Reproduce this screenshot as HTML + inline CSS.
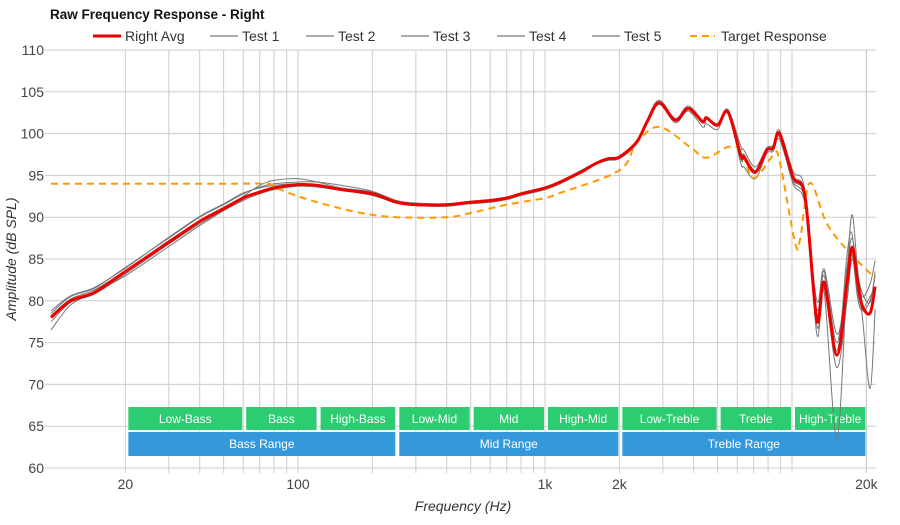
<!DOCTYPE html>
<html><head><meta charset="utf-8">
<style>
body{margin:0;background:#fff;font-family:"Liberation Sans",sans-serif;}
svg text{font-family:"Liberation Sans",sans-serif;}
</style></head>
<body>
<svg id="chart" width="900" height="520" xmlns="http://www.w3.org/2000/svg">
<text x="50" y="19" font-size="13.5" font-weight="bold" fill="#111">Raw Frequency Response - Right</text>
<g id="legend" font-size="14" fill="#333">
 <g><line x1="93" y1="36" x2="121" y2="36" stroke="#e00" stroke-width="3"/><text x="125" y="41">Right Avg</text></g>
 <g><line x1="210" y1="36" x2="238" y2="36" stroke="#aaa" stroke-width="2"/><text x="242" y="41">Test 1</text></g>
 <g><line x1="306" y1="36" x2="334" y2="36" stroke="#aaa" stroke-width="2"/><text x="338" y="41">Test 2</text></g>
 <g><line x1="401" y1="36" x2="429" y2="36" stroke="#aaa" stroke-width="2"/><text x="433" y="41">Test 3</text></g>
 <g><line x1="497" y1="36" x2="525" y2="36" stroke="#aaa" stroke-width="2"/><text x="529" y="41">Test 4</text></g>
 <g><line x1="592" y1="36" x2="620" y2="36" stroke="#aaa" stroke-width="2"/><text x="624" y="41">Test 5</text></g>
 <g><line x1="690" y1="36" x2="715" y2="36" stroke="#f90" stroke-width="2" stroke-dasharray="7,5"/><text x="721" y="41">Target Response</text></g>
</g>
<g id="grid"></g>
<g id="bands"></g>
<g id="series"></g>
<g id="axes"></g>
<text x="463" y="511" font-size="14" font-style="italic" text-anchor="middle" fill="#333">Frequency (Hz)</text>
<text transform="translate(16,259) rotate(-90)" font-size="14" font-style="italic" text-anchor="middle" fill="#333">Amplitude (dB SPL)</text>
</svg>
<script>
const freqs=[10,12,15,20,30,40,50,60,70,80,100,120,150,200,250,300,400,500,600,700,800,1000,1150,1400,1600,1800,2000,2350,2600,2900,3370,3800,4350,4500,5000,5500,6200,6400,7100,7900,8400,8900,10100,11300,12600,13500,15200,16700,17500,18400,19200,20700,21700];
const avgValues=[78,80,81,83.5,87,89.5,91,92.3,93,93.5,93.9,93.8,93.3,92.8,91.8,91.5,91.5,91.8,92,92.3,92.8,93.5,94.2,95.4,96.4,97,97.2,99,101.5,103.7,101.6,103,101.4,101.9,101,102.6,97.4,97.2,95.4,98,98.3,100,94.8,92.4,77.7,82.2,73.5,82.1,86.4,82.5,79.5,78.5,81.7];
const test1Values=[76.5,79.5,81,83,86.5,89,90.8,92.5,93.8,94.4,94.6,94.2,93.5,93,92,91.6,91.4,91.6,91.8,92.1,92.6,93.3,94,95.3,96.3,96.8,97,98.8,101.8,104,101.8,103.3,101.6,102,101.2,102.9,98.5,98,96,98.3,98.6,100.4,95.5,93,76,81,63.5,83,90.3,84,80.5,82,84.8];
const test2Values=[78.5,80.5,81.5,84,87.5,90,91.5,92.8,93.6,94,94.2,94.2,93.8,93.1,92,91.7,91.6,91.9,92.1,92.4,92.9,93.6,94.3,95.6,96.5,97.1,97.3,99.1,101.4,103.5,101.3,102.7,100.8,101.2,100.5,102.4,96.5,96,94.6,97.6,97.9,99.6,94,91.5,79,83.5,75,84,87.5,83.5,81,79.8,83.5];
const test3Values=[77.5,79.8,80.8,83.2,86.8,89.2,90.8,92,92.8,93.3,93.7,93.6,93.2,92.6,91.7,91.4,91.3,91.7,91.9,92.2,92.7,93.4,94.1,95.4,96.4,96.9,97.1,99,101.6,103.8,101.7,103.1,101.5,102,101.1,102.7,97.8,97.5,95.6,98.1,98.4,100.1,95,92.6,77,81.5,72,80,85,81.5,78.5,69.5,79];
const test4Values=[78.2,80.2,81.3,83.6,87.2,89.6,91.2,92.4,93.1,93.6,93.9,93.8,93.4,92.8,91.8,91.5,91.5,91.8,92,92.3,92.8,93.5,94.2,95.5,96.5,97,97.2,99,101.5,103.6,101.5,102.9,101.3,101.8,100.9,102.5,97.3,97.1,95.3,97.9,98.2,99.9,94.6,92.2,78.5,83,74,85.5,88,81,78.8,80,83];
const test5Values=[78.8,80.6,81.6,83.9,87.6,90.1,91.6,92.9,93.5,93.8,94,93.8,93.2,92.7,91.7,91.4,91.4,91.7,92,92.3,92.8,93.5,94.2,95.6,96.5,97,97.2,99,101.5,103.7,101.6,103,101.4,101.9,101,102.5,97,96.9,95.2,97.9,98,99.3,94.3,92,80,83.8,76,82,85.5,80.5,79,80.5,81.5];
const targetFreqs=[10,20,50,75,80,100,130,180,250,400,500,700,1000,1150,2000,2350,2900,3900,4500,5500,6200,7000,8400,8900,10300,10800,11800,13800,16700,21700];
const targetValues=[94,94,94,94,93.6,92.5,91.5,90.5,90,90,90.5,91.5,92.3,92.9,95.6,98.9,100.8,98.3,97.1,98.4,98,94.7,97.4,96.8,86.9,87.5,94.1,89.3,86.1,82.7];
const yTicks=[60,65,70,75,80,85,90,95,100,105,110];
const xTickValues=[20,100,1000,2000,20000];
const xTickLabels=["20","100","1k","2k","20k"];
const bandNames=["Low-Bass","Bass","High-Bass","Low-Mid","Mid","High-Mid","Low-Treble","Treble","High-Treble"];
const bandEdges=[20,60,120,250,500,1000,2000,5000,10000,20000];
const rangeNames=["Bass Range","Mid Range","Treble Range"];
const rangeEdges=[20,250,2000,20000];

const NS="http://www.w3.org/2000/svg";
const X0=50,X1=876,Y0=50,Y1=468;
function xs(f){return 298+247*Math.log10(f/100);}
function ys(v){return Y0+(110-v)*(Y1-Y0)/50;}
function mk(tag,attrs,parent){const e=document.createElementNS(NS,tag);for(const k in attrs)e.setAttribute(k,attrs[k]);parent.appendChild(e);return e;}
const grid=document.getElementById('grid'),axes=document.getElementById('axes'),bands=document.getElementById('bands'),series=document.getElementById('series');
yTicks.forEach(v=>{
 const l=mk('line',{x1:X0-5,x2:X1,y1:ys(v),y2:ys(v),stroke:'#ccc','stroke-width':1},grid);
 
 
 const t=mk('text',{x:44,y:ys(v)+5,'font-size':14,'text-anchor':'end',fill:'#444'},axes);
 
 
 t.textContent=v;
});
const gf=[];
for(let d=10;d<=10000;d*=10)for(let m=1;m<10;m++){const f=d*m;if(f>=20&&f<=20000)gf.push(f);}
gf.push(20000);
gf.forEach(f=>{
 const l=mk('line',{x1:xs(f),x2:xs(f),y1:Y0,y2:Y1+5,stroke:'#ccc','stroke-width':1},grid);
 
 
});
xTickValues.forEach((f,i)=>{
 const t=mk('text',{x:xs(f),y:489,'font-size':14,'text-anchor':'middle',fill:'#444'},axes);
 
 
 t.textContent=xTickLabels[i];
});
bandNames.forEach((n,i)=>{
 const a=xs(bandEdges[i])+3,b=xs(bandEdges[i+1])-1;
 const r=mk('rect',{x:a,y:407,width:b-a,height:23,fill:'#2ecc71'},bands);
 
 
 const t=mk('text',{x:(a+b)/2,y:423,'font-size':12,'text-anchor':'middle',fill:'#fff'},bands);
 
 
 t.textContent=n;
});
rangeNames.forEach((n,i)=>{
 const a=xs(rangeEdges[i])+3,b=xs(rangeEdges[i+1])-1;
 const r=mk('rect',{x:a,y:432,width:b-a,height:24,fill:'#3498db'},bands);
 
 
 const t=mk('text',{x:(a+b)/2,y:448,'font-size':12,'text-anchor':'middle',fill:'#fff'},bands);
 
 
 t.textContent=n;
});
function pathD(fs,vs){
 const p=fs.map((f,i)=>[xs(f),ys(vs[i])]);
 let d='M'+p[0][0].toFixed(1)+','+p[0][1].toFixed(1);
 for(let i=0;i<p.length-1;i++){
  const p0=p[i-1]||p[i],p1=p[i],p2=p[i+1],p3=p[i+2]||p2;
  const c1=[p1[0]+(p2[0]-p0[0])/6,p1[1]+(p2[1]-p0[1])/6];
  const c2=[p2[0]-(p3[0]-p1[0])/6,p2[1]-(p3[1]-p1[1])/6];
  d+='C'+c1.map(n=>n.toFixed(1))+' '+c2.map(n=>n.toFixed(1))+' '+p2.map(n=>n.toFixed(1));
 }
 return d;
}
[test1Values,test2Values,test3Values,test4Values,test5Values].forEach((vs,i)=>{
 const p=mk('path',{d:pathD(freqs,vs),fill:'none',stroke:'#777','stroke-width':1},series);
 
 
});
const tp=mk('path',{d:pathD(targetFreqs,targetValues),fill:'none',stroke:'#f90','stroke-width':2,'stroke-dasharray':'7,5'},series);


const ap=mk('path',{d:pathD(freqs,avgValues),fill:'none',stroke:'#e00','stroke-width':3,'stroke-linejoin':'round'},series);


</script>
</body></html>
